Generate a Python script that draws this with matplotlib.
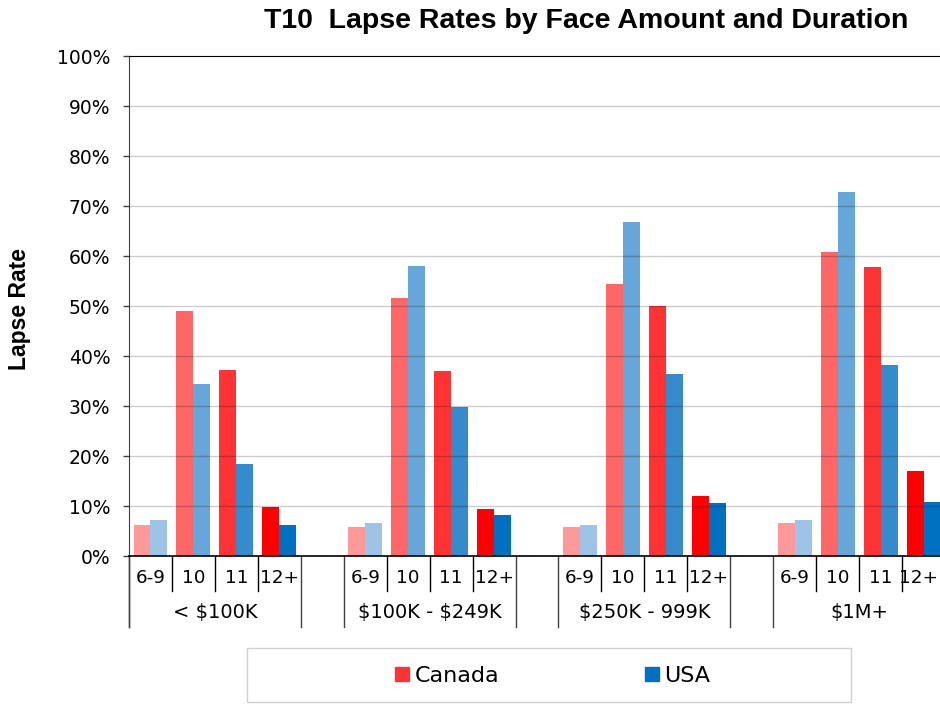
import matplotlib.pyplot as plt
from matplotlib.patches import Rectangle
from matplotlib.lines import Line2D
from matplotlib.ticker import FuncFormatter
from matplotlib import transforms as mtransforms

plt.rcParams['font.family'] = ['DejaVu Sans']
plt.rcParams['text.parse_math'] = False

groups = ['< $100K', '$100K - $249K', '$250K - 999K', '$1M+']
durations = ['6-9', '10', '11', '12+']

# lapse rates in %, one row per face amount band, one column per duration
canada = [
    [6.2, 49.0, 37.3, 9.9],
    [5.9, 51.7, 37.1, 9.5],
    [5.9, 54.5, 50.0, 12.1],
    [6.7, 60.9, 57.9, 17.0],
]
usa = [
    [7.2, 34.5, 18.5, 6.3],
    [6.6, 58.1, 29.9, 8.3],
    [6.3, 66.8, 36.5, 10.7],
    [7.2, 72.9, 38.3, 10.8],
]

canada_colors = ['#FF9999', '#FF6666', '#FF3333', '#FF0000']
usa_colors = ['#9DC4E7', '#66A6D8', '#358BCC', '#0070C0']

fig = plt.figure(figsize=(9.4, 7.05), dpi=100)
ax = fig.add_axes([129 / 940, 149 / 705, 816 / 940, 500 / 705])

w = 0.395
slots_per_group = len(durations) + 1  # one empty slot between bands
for g, band in enumerate(groups):
    for d, dur in enumerate(durations):
        x = g * slots_per_group + d
        ax.bar(x - w / 2, canada[g][d], w, color=canada_colors[d], zorder=2)
        ax.bar(x + w / 2, usa[g][d], w, color=usa_colors[d], zorder=2)

n_slots = len(groups) * slots_per_group - 1
ax.set_xlim(-0.5, n_slots - 0.5)
ax.set_ylim(0, 100)

# gridlines sit over the bars, faintly
for v in range(10, 100, 10):
    ax.axhline(v, color='black', alpha=0.2, lw=1, zorder=3)

ax.set_yticks(range(0, 101, 10))
ax.yaxis.set_major_formatter(FuncFormatter(lambda v, pos: f'{v:.0f}%'))
ax.tick_params(axis='y', length=4.5, width=1, color='#404040', labelsize=13.5, pad=9)
ax.set_xticks([])

for s in ['right', 'bottom']:
    ax.spines[s].set_visible(False)
ax.spines['top'].set_color('black')
ax.spines['left'].set_color('#404040')
ax.axhline(0, color='black', lw=1.2, zorder=4, clip_on=False)

# two-level category axis below the plot
tr = ax.get_xaxis_transform()
# the plot runs past the right edge, so the last label is pinned to the figure edge
edge_tr = mtransforms.blended_transform_factory(fig.transFigure, ax.transAxes)
row1, row2 = -0.044, -0.113
short_end, long_end = -0.07, -0.142
ax.plot([-0.5, -0.5], [0, long_end], transform=tr, color='#404040', lw=1, clip_on=False)
for g, band in enumerate(groups):
    start = g * slots_per_group
    left, right = start - 0.5, start + len(durations) - 0.5
    for edge in (left, right):
        ax.plot([edge, edge], [0, long_end], transform=tr, color='#404040', lw=1, clip_on=False)
    for d, dur in enumerate(durations):
        x = start + d
        if d > 0:
            ax.plot([x - 0.5, x - 0.5], [0, short_end], transform=tr, color='black', lw=1, clip_on=False)
        if g == len(groups) - 1 and d == len(durations) - 1:
            ax.text(938 / 940, row1, dur, transform=edge_tr, ha='right', va='center', fontsize=13.2)
        else:
            ax.text(x, row1, dur, transform=tr, ha='center', va='center', fontsize=13.2)
    ax.text((left + right) / 2, row2, band, transform=tr, ha='center', va='center', fontsize=14)

fig.text(586 / 940, 1 - 21 / 705, 'T10  Lapse Rates by Face Amount and Duration',
         ha='center', va='center', fontsize=20.5, fontweight='bold', family='Liberation Sans')
fig.text(20 / 940, 1 - 309 / 705, 'Lapse Rate', rotation=90, ha='center', va='center',
         fontsize=16.5, fontweight='bold', family='Liberation Sans')

# legend box
fig.patches.append(Rectangle((247 / 940, 3 / 705), 604 / 940, 54 / 705,
                             transform=fig.transFigure, fill=False, edgecolor='#D0D0D0', lw=1))
handles = [Line2D([], [], marker='s', ls='none', markersize=9.4, color='#FF3333'),
           Line2D([], [], marker='s', ls='none', markersize=9.4, color='#0070C0')]
fig.legend(handles, ['Canada', 'USA'], loc='center', bbox_to_anchor=(553 / 940, 1 - 676 / 705),
           ncol=2, frameon=False, fontsize=16, handletextpad=0.25, columnspacing=6.6,
           handlelength=0.6)

fig.savefig('out.png', dpi=100)
